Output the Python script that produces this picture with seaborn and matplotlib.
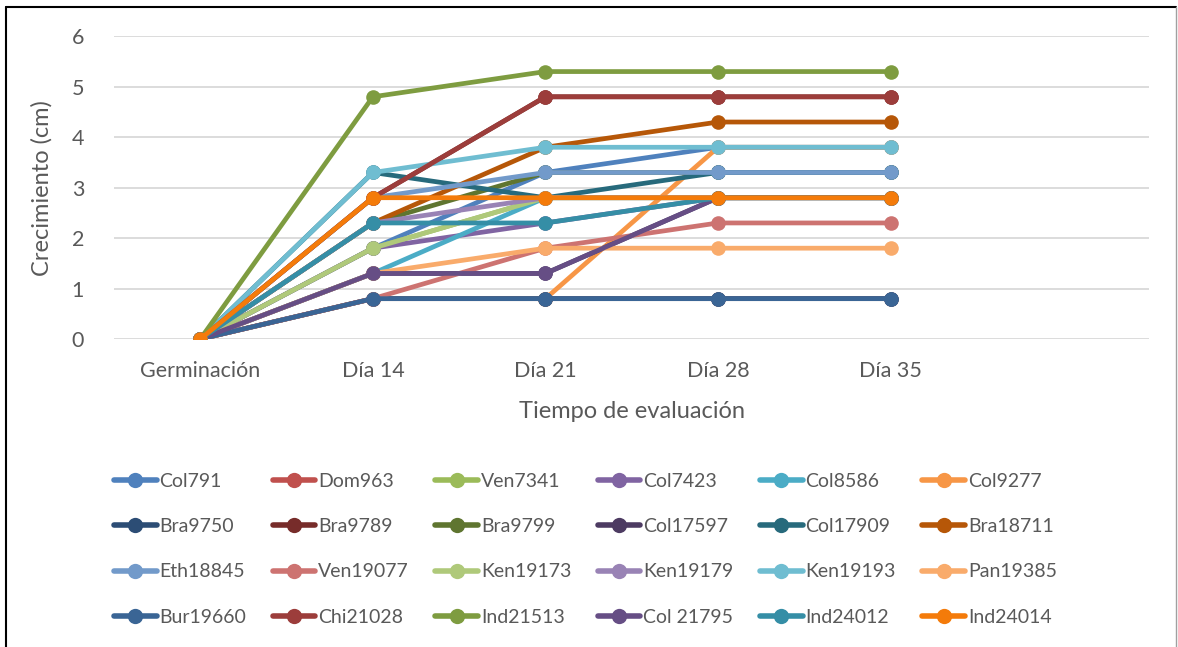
import pandas as pd
import seaborn as sns
import matplotlib.pyplot as plt
from matplotlib.lines import Line2D

# Datos del grafico
tiempos = ["Germinación", "Día 14", "Día 21", "Día 28", "Día 35", ""]

cultivares = [
    "Col791", "Dom963", "Ven7341", "Col7423", "Col8586", "Col9277",
    "Bra9750", "Bra9789", "Bra9799", "Col17597", "Col17909", "Bra18711",
    "Eth18845", "Ven19077", "Ken19173", "Ken19179", "Ken19193", "Pan19385",
    "Bur19660", "Chi21028", "Ind21513", "Col 21795", "Ind24012", "Ind24014",
]

germinacion = [0.0] * 24
dia14 = [1.8, 0.8, 1.8, 1.8, 1.3, 0.8, 0.8, 2.8, 2.3, 1.3, 3.3, 2.3,
         2.8, 0.8, 1.8, 2.3, 3.3, 1.3, 0.8, 2.8, 4.8, 1.3, 2.3, 2.8]
dia21 = [3.3, 0.8, 2.8, 2.3, 2.8, 0.8, 0.8, 4.8, 3.3, 1.3, 2.8, 3.8,
         3.3, 1.8, 2.8, 2.8, 3.8, 1.8, 0.8, 4.8, 5.3, 1.3, 2.3, 2.8]
dia28 = [3.8, 0.8, 2.8, 2.8, 2.8, 3.8, 0.8, 4.8, 3.3, 2.8, 3.3, 4.3,
         3.3, 2.3, 2.8, 2.8, 3.8, 1.8, 0.8, 4.8, 5.3, 2.8, 2.8, 2.8]
dia35 = [3.8, 0.8, 2.8, 2.8, 2.8, 3.8, 0.8, 4.8, 3.3, 2.8, 3.3, 4.3,
         3.3, 2.3, 2.8, 2.8, 3.8, 1.8, 0.8, 4.8, 5.3, 2.8, 2.8, 2.8]

colores = [
    "#4F81BD", "#C0504D", "#9BBB59", "#8064A2", "#4BACC6", "#F79646",
    "#2C4D75", "#772C2A", "#5F7530", "#4D3B62", "#276A7C", "#B65708",
    "#729ACA", "#CD7371", "#AFC97A", "#9983B5", "#6FBDD1", "#F9AB6B",
    "#3A6595", "#9C3D3B", "#7E9C40", "#664E85", "#358EA6", "#F47B0A",
]

# Tabla larga para seaborn
filas = []
for i, c in enumerate(cultivares):
    for pos, serie in enumerate([germinacion, dia14, dia21, dia28, dia35]):
        filas.append({"cultivar": c, "pos": pos, "valor": serie[i]})
df = pd.DataFrame(filas)

sns.set_style("white")
plt.rcParams["font.family"] = ["Lato", "DejaVu Sans"]
gris = "#595959"

fig = plt.figure(figsize=(11.78, 6.47), dpi=100)
ax = fig.add_axes([0.0968, 0.476, 0.879, 0.468])

sns.lineplot(
    data=df, x="pos", y="valor", hue="cultivar", hue_order=cultivares,
    palette=colores, marker="o", markersize=10.5, markeredgewidth=0,
    linewidth=3.4, legend=False, sort=False, ax=ax,
)

ax.set_xlim(-0.5, 5.5)
ax.set_ylim(0, 6)
ax.set_xticks(range(len(tiempos)))
ax.set_xticklabels(tiempos)
ax.set_yticks(range(7))
ax.grid(axis="y", color="#D9D9D9", linewidth=1.3)
ax.set_axisbelow(True)
for s in ax.spines.values():
    s.set_visible(False)
ax.tick_params(axis="both", length=0, labelsize=15.5, labelcolor=gris)
ax.tick_params(axis="x", pad=16)
ax.tick_params(axis="y", pad=26)
ax.set_xlabel("Tiempo de evaluación", fontsize=17, color=gris, labelpad=14)
ax.set_ylabel("Crecimiento (cm)", fontsize=17, color=gris, labelpad=14)
for t in ax.get_yticklabels():
    t.set_horizontalalignment("center")

# leyenda ordenada por filas (6 columnas x 4 filas)
ncol, nfil = 6, 4
orden = [f * ncol + c for c in range(ncol) for f in range(nfil)]
handles = [Line2D([], [], color=colores[k], linewidth=4, marker="o", markersize=11,
                  markeredgewidth=0) for k in orden]
etiquetas = [cultivares[k] for k in orden]
fig.legend(
    handles, etiquetas, loc="upper left", bbox_to_anchor=(0.090, 0.281),
    ncol=ncol, frameon=False, fontsize=14, labelcolor=gris,
    handlelength=2.2, handletextpad=0.15, columnspacing=1.35, labelspacing=1.45,
    borderaxespad=0,
)

# marco del area del grafico
fig.add_artist(Line2D([0.005, 0.005], [0, 0.989], color="black", linewidth=1.5))
fig.add_artist(Line2D([0.005, 0.9985], [0.989, 0.989], color="black", linewidth=1.5))
fig.add_artist(Line2D([0.9985, 0.9985], [0, 0.989], color="#A0A0A0", linewidth=1))

fig.savefig("out.png", dpi=100)
